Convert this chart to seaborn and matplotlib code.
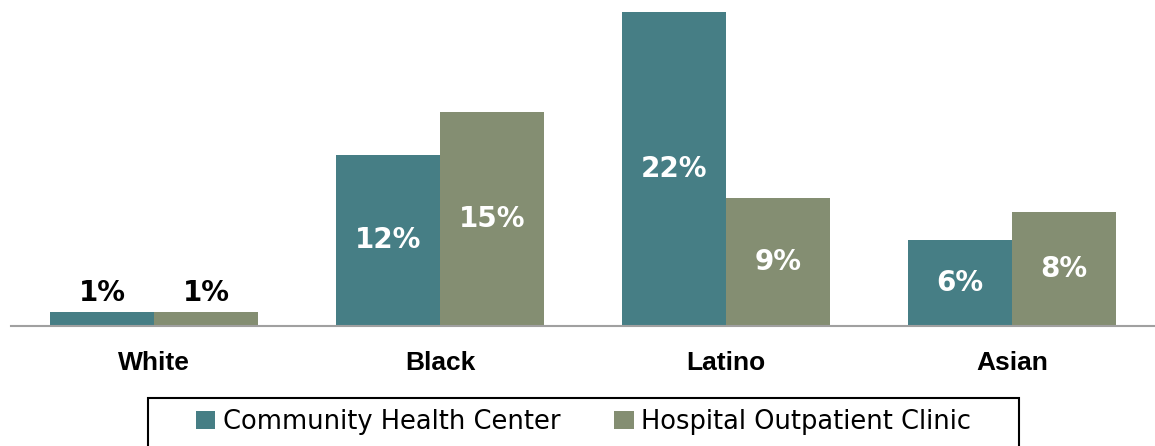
import matplotlib
matplotlib.use("Agg")
import matplotlib.pyplot as plt
from matplotlib.patches import Rectangle
import seaborn as sns
import pandas as pd

categories = ["White", "Black", "Latino", "Asian"]
series_names = ["Community Health Center", "Hospital Outpatient Clinic"]
chc_values = [1, 12, 22, 6]
hoc_values = [1, 15, 9, 8]
colors = ["#467E85", "#848E72"]

df = pd.DataFrame({
    "category": categories * 2,
    "series": [series_names[0]] * 4 + [series_names[1]] * 4,
    "value": chc_values + hoc_values,
})

sns.set_theme(style="white")
plt.rcParams["font.family"] = ["DejaVu Sans"]
plt.rcParams["text.color"] = "black"

W, H = 1155, 446
fig = plt.figure(figsize=(W / 100, H / 100), dpi=100)
ax = fig.add_axes([11 / W, 1 - 326 / H, 1144 / W, 326 / H])

sns.barplot(data=df, x="category", y="value", hue="series", order=categories,
            hue_order=series_names, palette=colors, width=0.727, gap=0,
            saturation=1, ax=ax, legend=True, linewidth=0)

ax.set_xlim(-0.5, 3.5)
ax.set_ylim(0, 22.85)
ax.set_xlabel("")
ax.set_ylabel("")
ax.set_yticks([])
for s in ["top", "left", "right"]:
    ax.spines[s].set_visible(False)
ax.spines["bottom"].set_color("#A0A0A0")
ax.spines["bottom"].set_linewidth(1.5)
ax.tick_params(axis="x", length=0, pad=18)
for lbl in ax.get_xticklabels():
    lbl.set_fontfamily("Liberation Sans")
    lbl.set_fontweight("bold")
    lbl.set_fontsize(19)
    lbl.set_color("black")

for cont in ax.containers:
    for bar in cont:
        h = bar.get_height()
        x = bar.get_x() + bar.get_width() / 2
        txt = f"{h:.0f}%"
        if h < 3:
            ax.text(x, h + 0.3, txt, ha="center", va="bottom", fontsize=20,
                    fontweight="bold", color="black")
        else:
            ax.text(x, h / 2, txt, ha="center", va="center", fontsize=20,
                    fontweight="bold", color="white")

handles, labels = ax.get_legend_handles_labels()
ax.get_legend().remove()
leg = fig.legend(handles, labels, loc="center", bbox_to_anchor=(583.5 / W, 1 - 422 / H),
                 ncol=2, frameon=False, fontsize=18.5, handlelength=0.75, handleheight=0.75,
                 handletextpad=0.3, columnspacing=2.1, borderpad=0, borderaxespad=0)
for t in leg.get_texts():
    t.set_color("black")

fig.add_artist(Rectangle((148 / W, -0.05), 871 / W, 0.05 + (446 - 398) / H,
                         transform=fig.transFigure, fill=False, edgecolor="black",
                         linewidth=1.5))

fig.savefig("out.png", dpi=100)
